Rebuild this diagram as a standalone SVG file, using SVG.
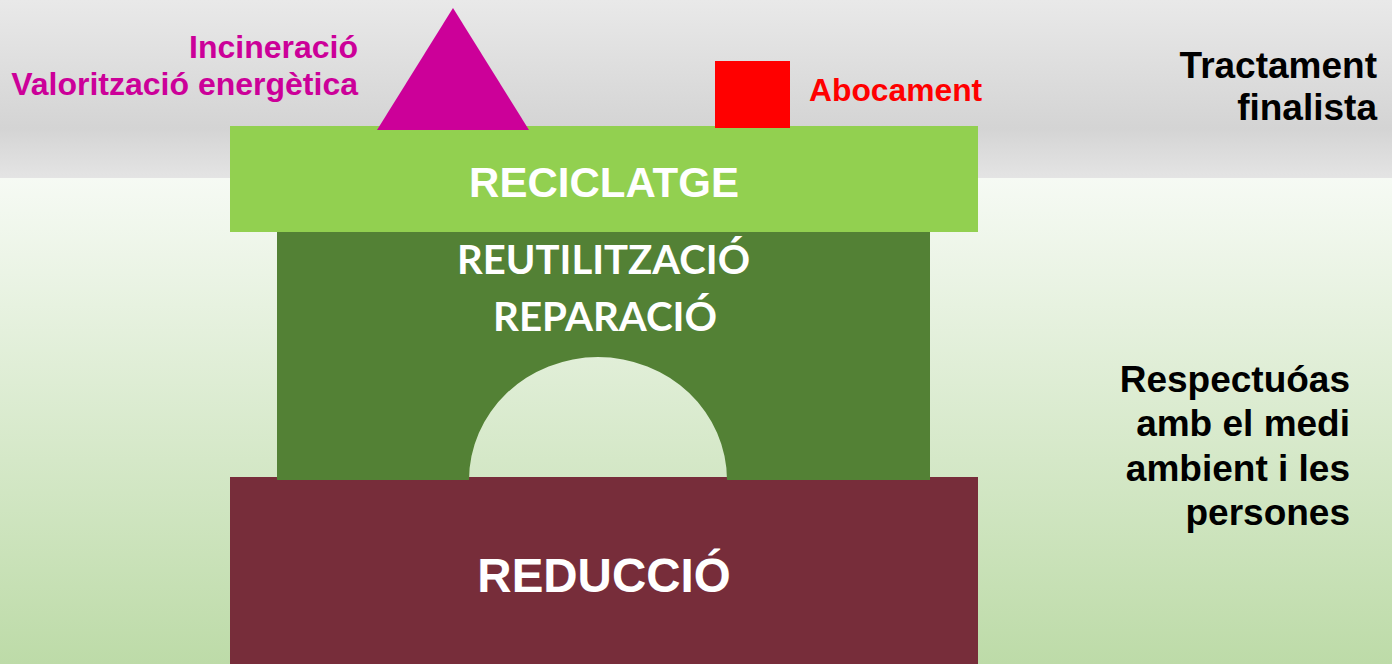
<svg xmlns="http://www.w3.org/2000/svg" width="1392" height="664" viewBox="0 0 1392 664">
  <defs>
    <linearGradient id="gray" x1="0" y1="0" x2="0" y2="1">
      <stop offset="0" stop-color="#e9e9e9"/>
      <stop offset="0.72" stop-color="#d4d4d4"/>
      <stop offset="1" stop-color="#e4e4e4"/>
    </linearGradient>
    <linearGradient id="green" x1="0" y1="178" x2="0" y2="664" gradientUnits="userSpaceOnUse">
      <stop offset="0" stop-color="#f6faf4"/>
      <stop offset="1" stop-color="#bddba8"/>
    </linearGradient>
    <style>
      .arial { font-family: "Liberation Sans", Arial, sans-serif; font-weight: bold; }
      .cal { font-family: Lato, "Open Sans", sans-serif; font-weight: bold; }
      .white { fill: #ffffff; }
    </style>
  </defs>

  <g id="background">
    <rect x="0" y="0" width="1392" height="178" fill="url(#gray)"/>
    <rect x="0" y="178" width="1392" height="486" fill="url(#green)"/>
  </g>

  <g id="reduccio">
    <rect x="230" y="477" width="748" height="187" fill="#772d3a"/>
    <text class="arial white" x="604" y="592" font-size="47.5" text-anchor="middle">REDUCCIÓ</text>
  </g>

  <g id="reutilitzacio">
    <path d="M277,230 H752 V227 H930 V480 H727 A129,123 0 0 0 469,480 H277 Z" fill="#538135"/>
    <text class="cal white" x="603.5" y="274" font-size="40" text-anchor="middle" textLength="293" lengthAdjust="spacingAndGlyphs">REUTILITZACIÓ</text>
    <text class="cal white" x="605" y="331" font-size="40" text-anchor="middle" textLength="224" lengthAdjust="spacingAndGlyphs">REPARACIÓ</text>
  </g>

  <g id="reciclatge">
    <rect x="230" y="126" width="748" height="106" fill="#92d050"/>
    <text class="arial white" x="604" y="197" font-size="42" text-anchor="middle">RECICLATGE</text>
  </g>

  <g id="incineracio">
    <polygon points="453,8 377,130 529,130" fill="#cc0099"/>
    <text class="arial" x="358" y="58" font-size="32" text-anchor="end" fill="#cc0099">Incineració</text>
    <text class="arial" x="358" y="95" font-size="32" text-anchor="end" fill="#cc0099">Valorització energètica</text>
  </g>

  <g id="abocament">
    <rect x="715" y="61" width="75" height="67" fill="#ff0000"/>
    <text class="arial" x="809" y="101" font-size="31.8" fill="#ff0000">Abocament</text>
  </g>

  <g id="tractament">
    <text class="arial" x="1377" y="78" font-size="37" text-anchor="end" fill="#000000">Tractament</text>
    <text class="arial" x="1377" y="120" font-size="37" text-anchor="end" fill="#000000">finalista</text>
  </g>

  <g id="respectuoses">
    <text class="arial" x="1350" y="392" font-size="37" text-anchor="end" fill="#000000">Respectuóas</text>
    <text class="arial" x="1350" y="436" font-size="37" text-anchor="end" fill="#000000">amb el medi</text>
    <text class="arial" x="1350" y="481" font-size="37" text-anchor="end" fill="#000000">ambient i les</text>
    <text class="arial" x="1350" y="525" font-size="37" text-anchor="end" fill="#000000">persones</text>
  </g>
</svg>
